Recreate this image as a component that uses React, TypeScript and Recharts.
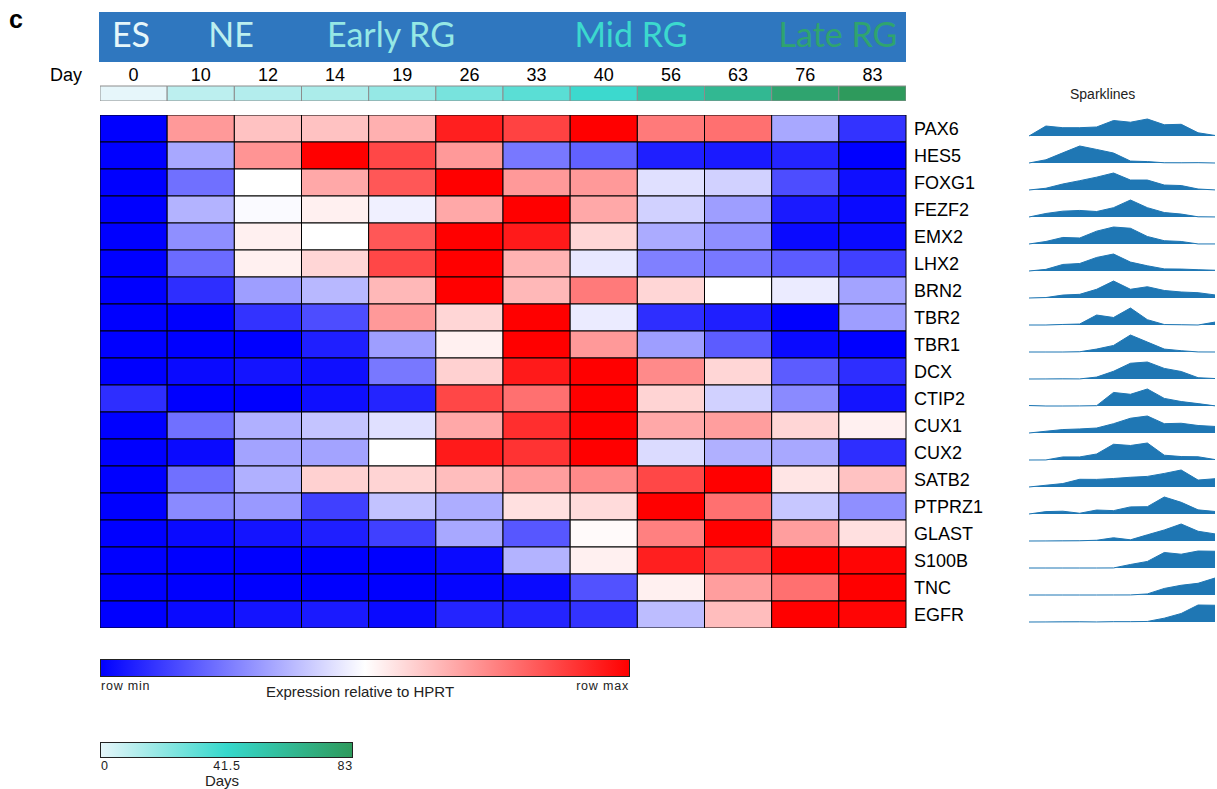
import React from 'react';
import { BarChart, Bar, Cell, XAxis, YAxis, AreaChart, Area } from 'recharts';

// days of differentiation (columns)
const DAYS = [0, 10, 12, 14, 19, 26, 33, 40, 56, 63, 76, 83];
const STAGES = ['ES', 'NE', 'Early RG', 'Mid RG', 'Late RG'];
const STAGE_DAYS = [0, 10, 19, 40, 76]; // each stage label is tinted with its day colour
const DAY_TICKS = [0, 41.5, 83];

const GENES = [
  'PAX6', 'HES5', 'FOXG1', 'FEZF2', 'EMX2', 'LHX2', 'BRN2', 'TBR2', 'TBR1', 'DCX',
  'CTIP2', 'CUX1', 'CUX2', 'SATB2', 'PTPRZ1', 'GLAST', 'S100B', 'TNC', 'EGFR',
];

// row-normalised expression, 0 = row min, 1 = row max
const PAX6 = [0, 0.7, 0.62, 0.62, 0.655, 0.94, 0.87, 1, 0.76, 0.78, 0.33, 0.1];
const HES5 = [0, 0.33, 0.71, 1, 0.86, 0.7, 0.235, 0.19, 0.06, 0.05, 0.07, 0];
const FOXG1 = [0, 0.22, 0.5, 0.67, 0.83, 1, 0.7, 0.7, 0.44, 0.41, 0.15, 0.03];
const FEZF2 = [0, 0.35, 0.49, 0.53, 0.47, 0.67, 1, 0.67, 0.41, 0.31, 0.05, 0.02];
const EMX2 = [0, 0.28, 0.53, 0.5, 0.83, 1, 0.95, 0.58, 0.335, 0.28, 0.02, 0.02];
const LHX2 = [0, 0.21, 0.53, 0.58, 0.86, 1, 0.65, 0.455, 0.25, 0.235, 0.18, 0.125];
const BRN2 = [0, 0.09, 0.31, 0.36, 0.64, 1, 0.64, 0.76, 0.58, 0.5, 0.46, 0.32];
const TBR2 = [0, 0, 0.1, 0.15, 0.7, 0.58, 1, 0.46, 0.09, 0.06, 0, 0.31];
const TBR1 = [0, 0, 0, 0.06, 0.31, 0.53, 1, 0.7, 0.31, 0.18, 0.02, 0];
const DCX = [0, 0.02, 0.04, 0.03, 0.235, 0.59, 0.95, 1, 0.73, 0.58, 0.18, 0.09];
const CTIP2 = [0.09, 0, 0, 0.03, 0.07, 0.86, 0.78, 1, 0.585, 0.41, 0.27, 0.04];
const CUX1 = [0, 0.22, 0.345, 0.385, 0.44, 0.67, 0.91, 1, 0.67, 0.69, 0.58, 0.53];
const CUX2 = [0, 0.02, 0.32, 0.32, 0.5, 0.95, 0.9, 1, 0.43, 0.345, 0.33, 0.09];
const SATB2 = [0, 0.22, 0.345, 0.59, 0.585, 0.63, 0.69, 0.73, 0.86, 1, 0.55, 0.62];
const PTPRZ1 = [0, 0.27, 0.3, 0.125, 0.38, 0.34, 0.56, 0.57, 1, 0.78, 0.39, 0.28];
const GLAST = [0, 0.02, 0.04, 0.06, 0.125, 0.33, 0.17, 0.51, 0.75, 1, 0.69, 0.56];
const S100B = [0, 0, 0, 0, 0, 0.02, 0.35, 0.53, 0.94, 0.87, 1, 0.99];
const TNC = [0, 0, 0, 0, 0, 0.01, 0.02, 0.16, 0.53, 0.69, 0.78, 1];
const EGFR = [0, 0.02, 0.04, 0.05, 0.02, 0.07, 0.07, 0.1, 0.37, 0.63, 1, 0.99];

const EXPRESSION = [
  PAX6, HES5, FOXG1, FEZF2, EMX2, LHX2, BRN2, TBR2, TBR1, DCX,
  CTIP2, CUX1, CUX2, SATB2, PTPRZ1, GLAST, S100B, TNC, EGFR,
];

const FONT = '"Liberation Sans", Arial, sans-serif';
const CELL_H = 27;
const SPARK = '#1f77b4';

// blue -> white -> red
const heatColor = (v: number) => {
  if (v <= 0.5) {
    const c = Math.round(255 * (v / 0.5));
    return `rgb(${c},${c},255)`;
  }
  const c = Math.round(255 * ((1 - v) / 0.5));
  return `rgb(255,${c},${c})`;
};

const DAY_STOPS = [
  [230, 246, 250],
  [54, 216, 204],
  [46, 154, 92],
];
const dayColor = (d: number) => {
  const t = d / 83;
  const seg = t <= 0.5 ? 0 : 1;
  const k = t <= 0.5 ? t / 0.5 : (t - 0.5) / 0.5;
  const a = DAY_STOPS[seg];
  const b = DAY_STOPS[seg + 1];
  const c = a.map((x, i) => Math.round(x + (b[i] - x) * k));
  return `rgb(${c[0]},${c[1]},${c[2]})`;
};

// one stacked unit per day, so every cell is one column wide
const cellKeys = DAYS.map((_, i) => `c${i}`);
const unitRow = Object.fromEntries(cellKeys.map((k) => [k, 1]));
const heatRows = GENES.map((gene) => ({ gene, ...unitRow }));
const dayRow = [{ name: 'Day', ...unitRow }];
const dayTicks = DAYS.map((_, i) => i + 0.5);

const abs = (left: number, top: number): React.CSSProperties => ({ position: 'absolute', left, top });

const App: React.FC = () => {
  const bannerX = [131, 231, 391, 631, 838];

  return (
    <div style={{ position: 'absolute', left: 0, top: 0, width: 1217, height: 789, background: '#fff', fontFamily: FONT }}>
      {/* stage banner */}
      <svg style={abs(0, 0)} width={1217} height={90}>
        <text x={9} y={28} fontSize={25} fontWeight="bold" fontFamily={FONT} fill="#000">c</text>
        <rect x={99} y={12} width={807} height={50} fill="#2f77bf" />
        {STAGES.map((s, i) => (
          <text
            key={s}
            x={bannerX[i]}
            y={47}
            textAnchor="middle"
            fontFamily="Lato, 'Open Sans', sans-serif"
            fontSize={34}
            fill={dayColor(STAGE_DAYS[i])}
          >
            {s}
          </text>
        ))}
        <text x={50} y={81} fontSize={18} fontFamily={FONT} fill="#000">Day</text>
      </svg>

      {/* day strip with day labels on top */}
      <div style={abs(100, 60)}>
        <BarChart
          layout="vertical"
          width={806}
          height={41}
          data={dayRow}
          barCategoryGap={0}
          margin={{ top: 0, right: 0, bottom: 0, left: 0 }}
        >
          <XAxis
            type="number"
            orientation="top"
            domain={[0, DAYS.length]}
            ticks={dayTicks}
            tickFormatter={(v: number) => String(DAYS[Math.floor(v)])}
            interval={0}
            axisLine={false}
            tickLine={false}
            tickSize={0}
            tickMargin={5}
            height={26}
            tick={{ fill: '#000', fontSize: 18, fontFamily: FONT }}
          />
          <YAxis type="category" dataKey="name" hide />
          {cellKeys.map((k, i) => (
            <Bar key={k} dataKey={k} stackId="d" isAnimationActive={false} stroke="#8c8c8c" strokeWidth={1}>
              <Cell fill={dayColor(DAYS[i])} />
            </Bar>
          ))}
        </BarChart>
      </div>

      {/* heatmap */}
      <div style={abs(100, 115)}>
        <BarChart
          layout="vertical"
          width={906}
          height={CELL_H * GENES.length}
          data={heatRows}
          barCategoryGap={0}
          margin={{ top: 0, right: 0, bottom: 0, left: 0 }}
        >
          <XAxis type="number" domain={[0, DAYS.length]} hide />
          <YAxis
            type="category"
            dataKey="gene"
            orientation="right"
            width={100}
            interval={0}
            axisLine={false}
            tickLine={false}
            tickSize={0}
            tickMargin={8}
            tick={{ fill: '#000', fontSize: 18, fontFamily: FONT }}
          />
          {cellKeys.map((k, i) => (
            <Bar key={k} dataKey={k} stackId="h" isAnimationActive={false} stroke="#000" strokeWidth={1}>
              {EXPRESSION.map((row, j) => (
                <Cell key={j} fill={heatColor(row[i])} />
              ))}
            </Bar>
          ))}
        </BarChart>
      </div>

      {/* sparklines */}
      <div style={{ ...abs(1070, 86), fontSize: 14, color: '#222' }}>Sparklines</div>
      {EXPRESSION.map((row, j) => {
        // heights follow expression; low values flattened a little as in the source
        const data = row.map((v, i) => ({ day: DAYS[i], v: Math.pow(v, 1.5) }));
        return (
          <div key={GENES[j]} style={abs(1012, 115 + CELL_H * j)}>
            <AreaChart width={205} height={CELL_H} data={data} margin={{ top: 4, right: 2, bottom: 6, left: 0 }}>
              <XAxis dataKey="day" hide padding={{ left: 17, right: 0 }} />
              <YAxis domain={[0, 1]} hide />
              <Area
                type="linear"
                dataKey="v"
                stroke={SPARK}
                strokeWidth={1}
                fill={SPARK}
                fillOpacity={1}
                dot={false}
                isAnimationActive={false}
              />
            </AreaChart>
          </div>
        );
      })}

      {/* legends */}
      <svg style={abs(0, 640)} width={700} height={149}>
        <defs>
          <linearGradient id="heatGrad" x1="0" x2="1" y1="0" y2="0">
            <stop offset="0" stopColor={heatColor(0)} />
            <stop offset="0.5" stopColor={heatColor(0.5)} />
            <stop offset="1" stopColor={heatColor(1)} />
          </linearGradient>
          <linearGradient id="dayGrad" x1="0" x2="1" y1="0" y2="0">
            {DAY_TICKS.map((d) => (
              <stop key={d} offset={d / 83} stopColor={dayColor(d)} />
            ))}
          </linearGradient>
        </defs>
        <rect x={100.5} y={19.5} width={529} height={17} fill="url(#heatGrad)" stroke="#222" strokeWidth={1} />
        <text x={101} y={50} fontSize={12.5} letterSpacing={0.8} fill="#222" fontFamily={FONT}>row min</text>
        <text x={629} y={50} fontSize={12.5} letterSpacing={0.8} fill="#222" textAnchor="end" fontFamily={FONT}>row max</text>
        <text x={360} y={57} fontSize={15} fill="#222" textAnchor="middle" fontFamily={FONT}>Expression relative to HPRT</text>

        <rect x={100.5} y={102.5} width={252} height={15} fill="url(#dayGrad)" stroke="#222" strokeWidth={1} />
        {DAY_TICKS.map((d, i) => (
          <text
            key={d}
            x={101 + (d / 83) * 252}
            y={130}
            fontSize={12.5}
            letterSpacing={0.8}
            fill="#222"
            fontFamily={FONT}
            textAnchor={i === 0 ? 'start' : i === DAY_TICKS.length - 1 ? 'end' : 'middle'}
          >
            {d}
          </text>
        ))}
        <text x={222} y={146} fontSize={15} fill="#222" textAnchor="middle" fontFamily={FONT}>Days</text>
      </svg>
    </div>
  );
};

export default App;
